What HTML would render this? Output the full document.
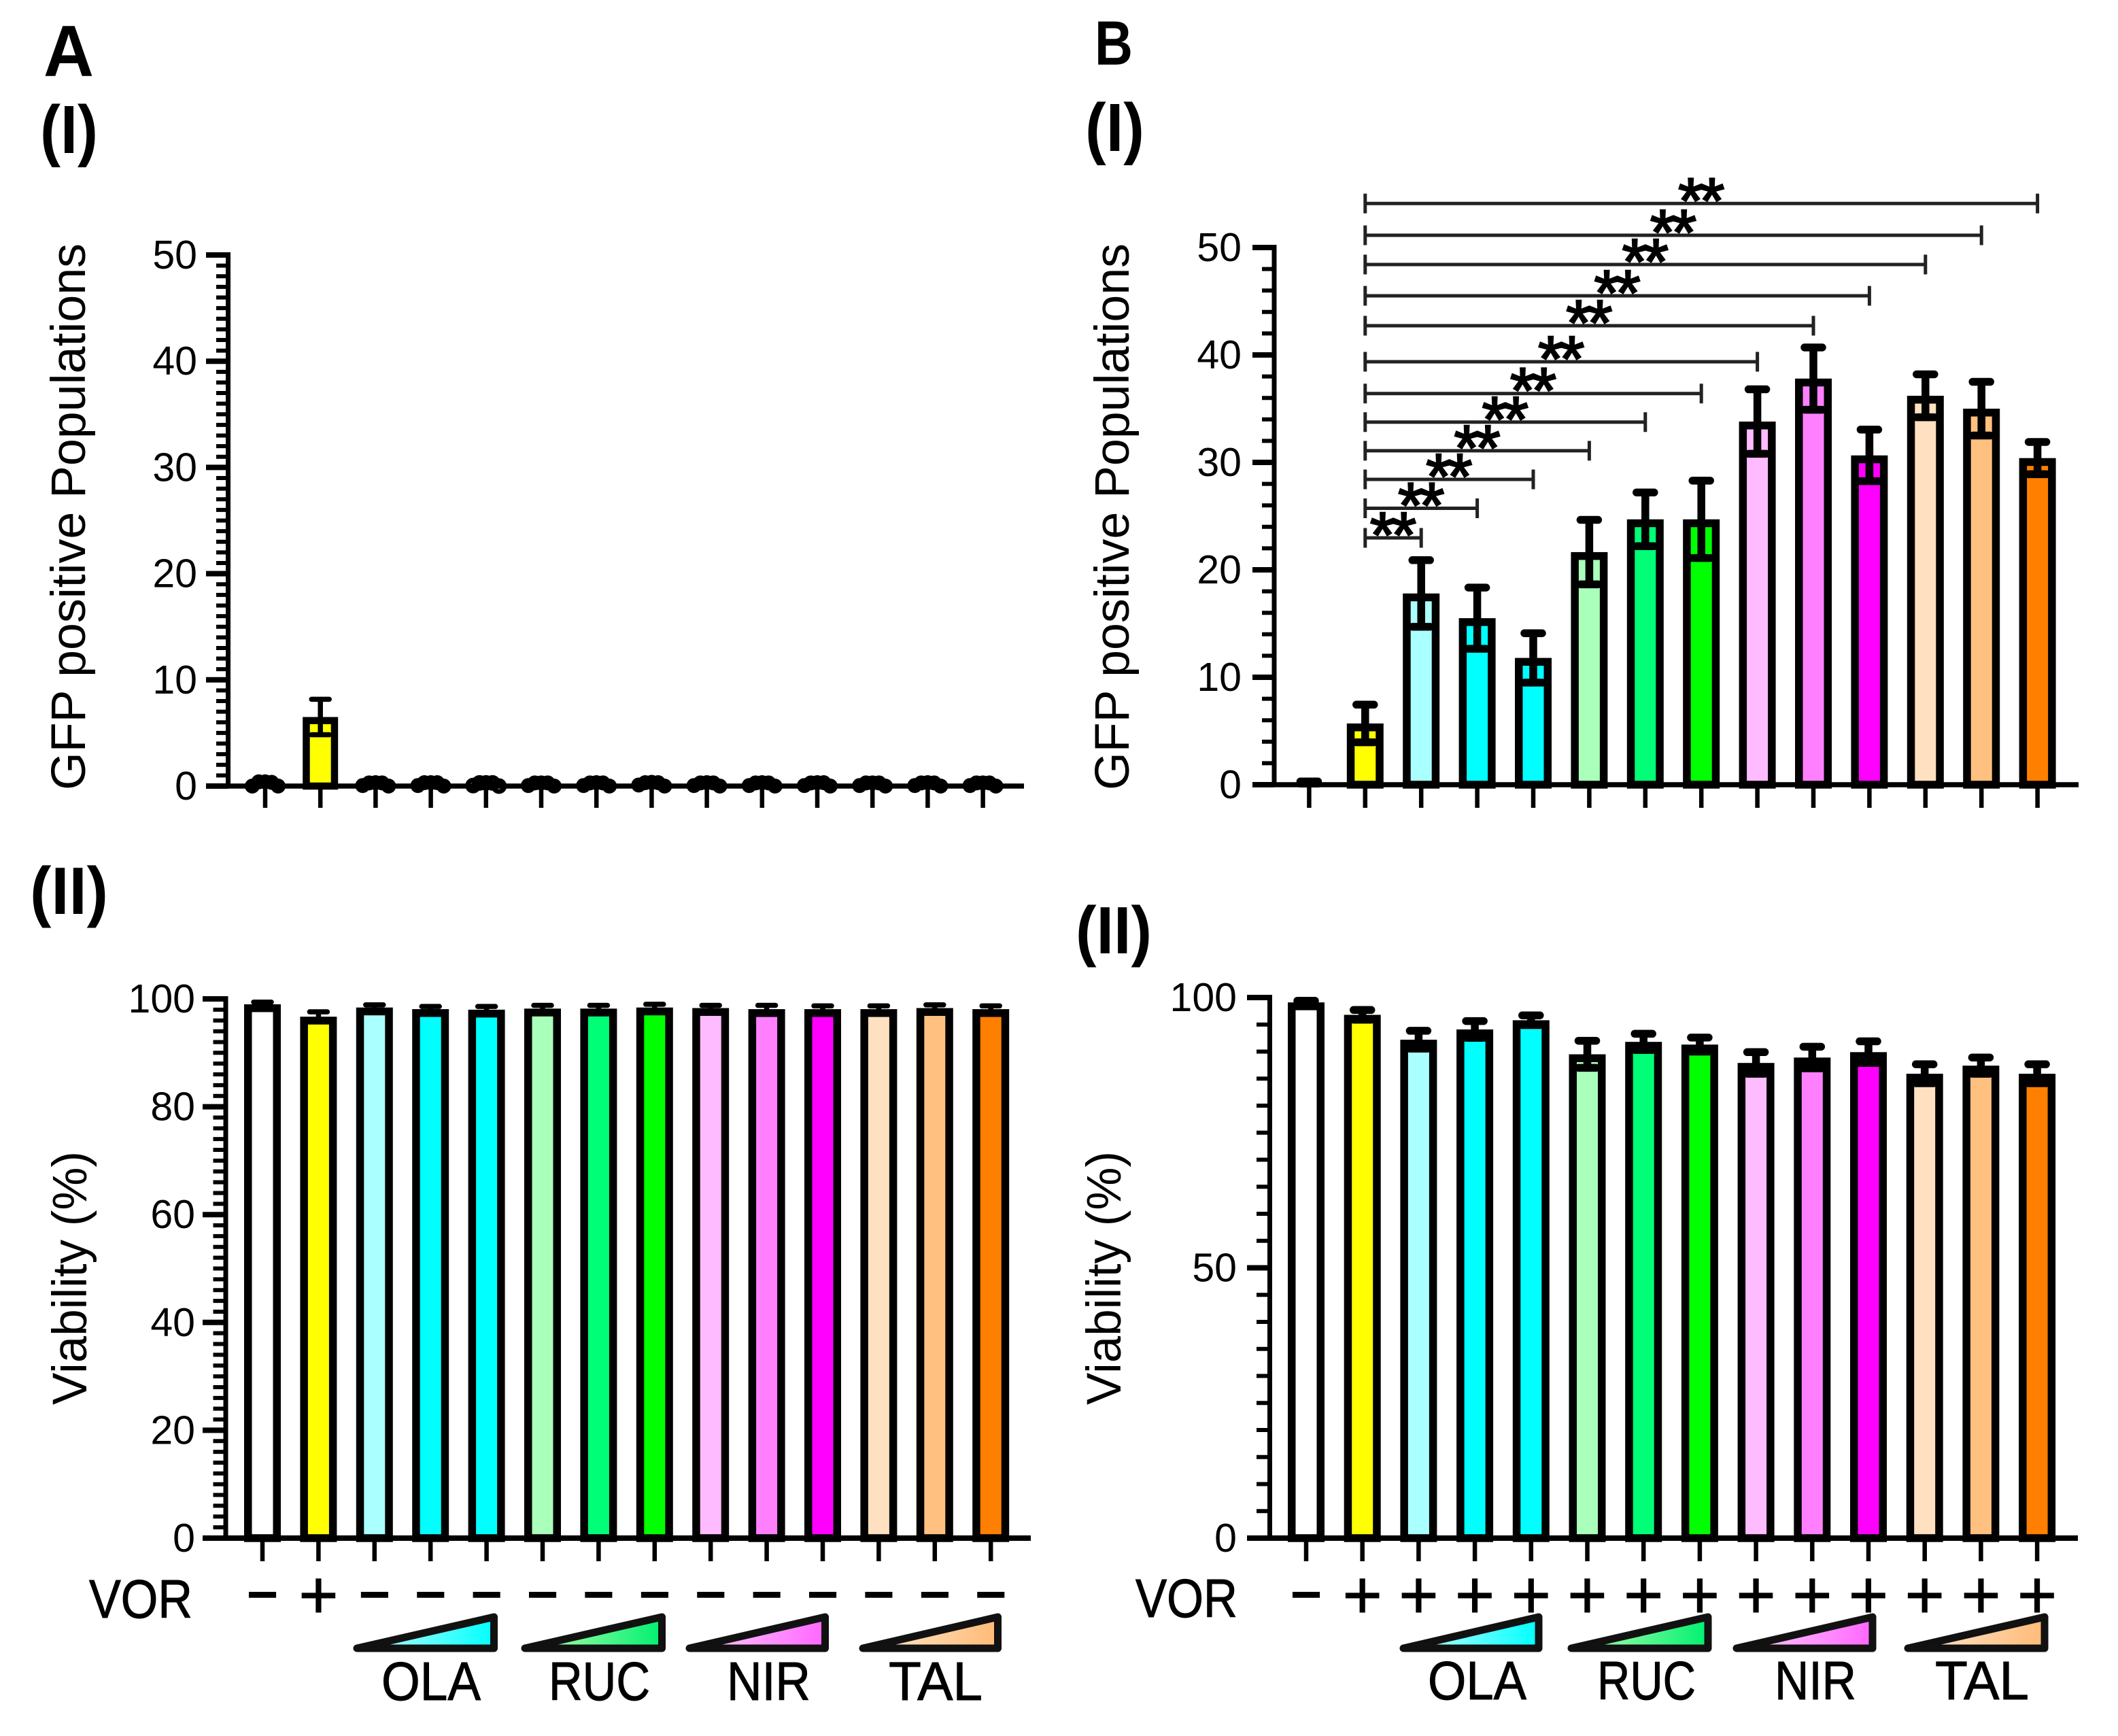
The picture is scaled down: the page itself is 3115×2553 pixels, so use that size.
<!DOCTYPE html>
<html lang="en">
<head>
<meta charset="utf-8">
<title>GFP positive populations and viability</title>
<style>
html,body{margin:0;padding:0;background:#fff;}
svg{display:block;font-family:"Liberation Sans",Arial,sans-serif;}
</style>
</head>
<body>
<svg id="figure" xmlns="http://www.w3.org/2000/svg" width="3115" height="2553" viewBox="0 0 3115 2553">
  <defs>
    <linearGradient id="grad-ola" x1="0" x2="1" y1="0" y2="0"><stop offset="0.1" stop-color="#b8ffff"/><stop offset="1" stop-color="#00ffff"/></linearGradient>
    <linearGradient id="grad-ruc" x1="0" x2="1" y1="0" y2="0"><stop offset="0.1" stop-color="#aaffaa"/><stop offset="1" stop-color="#00f070"/></linearGradient>
    <linearGradient id="grad-nir" x1="0" x2="1" y1="0" y2="0"><stop offset="0.1" stop-color="#ffc8ff"/><stop offset="1" stop-color="#ff66ff"/></linearGradient>
    <linearGradient id="grad-tal" x1="0" x2="1" y1="0" y2="0"><stop offset="0.1" stop-color="#ffe4c8"/><stop offset="1" stop-color="#ffbb77"/></linearGradient>
  </defs>
  <rect x="0" y="0" width="3115" height="2553" fill="#fff"/>

  <text x="64" y="112" font-size="107" font-weight="700" textLength="74" lengthAdjust="spacingAndGlyphs">A</text>
  <text x="59" y="225" font-size="100" font-weight="700" textLength="85" lengthAdjust="spacingAndGlyphs">(I)</text>
  <text x="44" y="1344" font-size="98" font-weight="700" textLength="115" lengthAdjust="spacingAndGlyphs">(II)</text>
  <text x="1610" y="95" font-size="92" font-weight="700" textLength="56" lengthAdjust="spacingAndGlyphs">B</text>
  <text x="1596" y="222" font-size="100" font-weight="700" textLength="87" lengthAdjust="spacingAndGlyphs">(I)</text>
  <text x="1582" y="1402" font-size="98" font-weight="700" textLength="112" lengthAdjust="spacingAndGlyphs">(II)</text>

  <text transform="translate(125 1162) rotate(-90)" font-size="71" textLength="804" lengthAdjust="spacingAndGlyphs">GFP positive Populations</text>
  <text transform="translate(1660 1162) rotate(-90)" font-size="71" textLength="804" lengthAdjust="spacingAndGlyphs">GFP positive Populations</text>
  <text transform="translate(127 2066) rotate(-90)" font-size="71" textLength="373" lengthAdjust="spacingAndGlyphs">Viability (%)</text>
  <text transform="translate(1648 2066) rotate(-90)" font-size="71" textLength="373" lengthAdjust="spacingAndGlyphs">Viability (%)</text>

  <text x="131" y="2379" font-size="80" stroke="#000" stroke-width="1" textLength="152" lengthAdjust="spacingAndGlyphs">VOR</text>
  <text x="1670" y="2378" font-size="80" stroke="#000" stroke-width="1" textLength="150" lengthAdjust="spacingAndGlyphs">VOR</text>

  <g stroke="#111" stroke-width="11" stroke-linejoin="round">
    <path fill="url(#grad-ola)" d="M525 2424 L726.500 2424 L726.500 2378 Z"/>
    <path fill="url(#grad-ruc)" d="M772 2424 L973.500 2424 L973.500 2378 Z"/>
    <path fill="url(#grad-nir)" d="M1014 2424 L1213.500 2424 L1213.500 2378 Z"/>
    <path fill="url(#grad-tal)" d="M1269 2424 L1467.500 2424 L1467.500 2378 Z"/>
  </g>
  <g stroke="#111" stroke-width="11" stroke-linejoin="round">
    <path fill="url(#grad-ola)" d="M2064 2424 L2263 2424 L2263 2378 Z"/>
    <path fill="url(#grad-ruc)" d="M2311 2424 L2512 2424 L2512 2378 Z"/>
    <path fill="url(#grad-nir)" d="M2554 2424 L2754 2424 L2754 2378 Z"/>
    <path fill="url(#grad-tal)" d="M2806 2424 L3007 2424 L3007 2378 Z"/>
  </g>

  <g font-size="80" stroke="#000" stroke-width="1">
    <text x="561" y="2500" textLength="146" lengthAdjust="spacingAndGlyphs">OLA</text>
    <text x="807" y="2500" textLength="149" lengthAdjust="spacingAndGlyphs">RUC</text>
    <text x="1069" y="2500" textLength="123" lengthAdjust="spacingAndGlyphs">NIR</text>
    <text x="1307" y="2500" textLength="138" lengthAdjust="spacingAndGlyphs">TAL</text>
    <text x="2100" y="2499" textLength="145" lengthAdjust="spacingAndGlyphs">OLA</text>
    <text x="2349" y="2499" textLength="145" lengthAdjust="spacingAndGlyphs">RUC</text>
    <text x="2610" y="2499" textLength="120" lengthAdjust="spacingAndGlyphs">NIR</text>
    <text x="2846" y="2499" textLength="138" lengthAdjust="spacingAndGlyphs">TAL</text>
  </g>
</svg>

<script>
// ---------- data ----------
const categories = ['CTRL','VOR','OLA-1','OLA-2','OLA-3','RUC-1','RUC-2','RUC-3','NIR-1','NIR-2','NIR-3','TAL-1','TAL-2','TAL-3'];
const barColors = ['#ffffff','#ffff00','#aaffff','#00ffff','#00ffff','#aaffbb','#00ff77','#00ff00','#ffbbff','#ff80ff','#ff00ff','#ffe0c0','#ffc080','#ff8000'];

const gfpTicksA = [0,10,20,30,40,50];
const gfpTicksB = [0,10,20,30,40,50];
const viabilityTicksA = [0,20,40,60,80,100];
const viabilityTicksB = [0,50,100];

const gfpMeansA = [0.2,6.5,0.2,0.2,0.2,0.2,0.2,0.2,0.2,0.2,0.2,0.2,0.2,0.2];
const gfpErrorsA = [0.1,1.67,0.1,0.1,0.1,0.1,0.1,0.1,0.1,0.1,0.1,0.1,0.1,0.1];
const gfpReplicatesA = [
  [0,0.4,0.4,0.35,0],[],
  [0.05,0.3,0.32,0.3,0],[0.05,0.32,0.32,0.32,0],
  [0.05,0.3,0.3,0.3,0],[0.05,0.3,0.3,0.3,0],
  [0.05,0.3,0.32,0.3,0],[0.1,0.32,0.35,0.32,0],
  [0.05,0.3,0.32,0.3,0],[0.05,0.3,0.32,0.3,0],
  [0.05,0.3,0.32,0.32,0],[0.05,0.3,0.3,0.3,0],
  [0.05,0.3,0.32,0.3,0],[0.05,0.3,0.3,0.3,0]
];
const openDotGroupA = 4;

const gfpMeansB = [0.2,5.7,17.8,15.5,11.8,21.65,24.7,24.7,33.8,37.8,30.65,36.2,35,30.4];
const gfpErrorsB = [0.1,1.75,3.1,2.85,2.3,3.0,2.5,3.6,3.0,2.9,2.4,2.0,2.5,1.5];

const viabilityMeansA = [99.0,96.7,98.4,98.1,98.0,98.2,98.2,98.4,98.3,98.1,98.1,98.1,98.3,98.1];
const viabilityErrorsA = [0.4,0.9,0.5,0.5,0.6,0.6,0.6,0.6,0.5,0.7,0.6,0.6,0.6,0.6];
const viabilityMeansB = [99.1,96.8,92.2,94.1,95.8,89.5,91.8,91.3,87.9,88.9,89.9,85.9,87.4,85.9];
const viabilityErrorsB = [0.3,0.9,1.65,1.55,0.9,2.5,1.5,1.3,2.0,2.0,2.0,1.75,1.5,1.75];

const vorSignsA = ['−','+','−','−','−','−','−','−','−','−','−','−','−','−'];
const vorSignsB = ['−','+','+','+','+','+','+','+','+','+','+','+','+','+'];

const bracketFromIndex = 1;
const bracketToIndexes = [2,3,4,5,6,7,8,9,10,11,12,13];
const bracketLabels = ['**','**','**','**','**','**','**','**','**','**','**','**'];

// ---------- layout ----------
const svg = document.getElementById('figure');
const NS = 'http://www.w3.org/2000/svg';
function svgEl(tag, attrs){
  const e = document.createElementNS(NS, tag);
  for (const k in attrs) e.setAttribute(k, attrs[k]);
  svg.appendChild(e);
  return e;
}

const charts = {
  a1:{x0:390,dx:81.2,y0:1156,pxPerUnit:15.62,axisX:335.5,axisW:7,majorLeft:303,minorLeft:318,baseRight:1506,baseW:7.5,minorStep:1,maxV:50,halfW:26,sw:10.5,errW:7.5,capHalf:13,tickBottom:1188,labelRight:290,key:'a1'},
  b1:{x0:1925.4,dx:82.4,y0:1154,pxPerUnit:15.8,axisX:1874,axisW:7,majorLeft:1842,minorLeft:1856,baseRight:3057,baseW:7.5,minorStep:2,maxV:50,halfW:27,sw:11.5,errW:11.5,capHalf:13,tickBottom:1188,labelRight:1826,key:'b1'},
  a2:{x0:386,dx:82.4,y0:2262,pxPerUnit:7.93,axisX:332,axisW:7,majorLeft:298,minorLeft:313.5,baseRight:1516,baseW:8,minorStep:2,maxV:100,halfW:27,sw:11.5,errW:7.5,capHalf:13,tickBottom:2296,labelRight:287,key:'a2'},
  b2:{x0:1921,dx:82.7,y0:2262,pxPerUnit:7.95,axisX:1867.5,axisW:7,majorLeft:1834,minorLeft:1848,baseRight:3056,baseW:8,minorStep:5,maxV:100,halfW:27,sw:11.5,errW:11.5,capHalf:13,tickBottom:2296,labelRight:1819,key:'b2'}
};
function xPos(c,i){ return c.x0 + c.dx*i; }
function yPos(c,v){ return c.y0 - c.pxPerUnit*v; }

function drawAxes(c, majorTicks){
  for (let v = 0; v <= c.maxV; v += c.minorStep){
    if (majorTicks.indexOf(v) >= 0) continue;
    const minor = svgEl('line',{x1:c.minorLeft,x2:c.axisX,y1:yPos(c,v),y2:yPos(c,v),stroke:'#000','stroke-width':6});
    
    
  }
  majorTicks.forEach(function(v){
    const tick = svgEl('line',{x1:c.majorLeft,x2:c.axisX,y1:yPos(c,v),y2:yPos(c,v),stroke:'#000','stroke-width':8});
    
    
    const label = svgEl('text',{x:c.labelRight,y:yPos(c,v)+20,'text-anchor':'end','font-size':59});
    
    
    label.textContent = String(v);
  });
  const axisLine = svgEl('line',{x1:c.axisX,x2:c.axisX,y1:yPos(c,c.maxV)-4,y2:c.y0,stroke:'#000','stroke-width':c.axisW});
  
  
  categories.forEach(function(name,i){
    const xt = svgEl('line',{x1:xPos(c,i),x2:xPos(c,i),y1:c.y0,y2:c.tickBottom,stroke:'#000','stroke-width':6.5});
    
    
  });
}

function drawBaseline(c){
  const base = svgEl('line',{x1:c.majorLeft,x2:c.baseRight,y1:c.y0,y2:c.y0,stroke:'#000','stroke-width':c.baseW});
  
  
}

function drawBars(c, means, errors, skip){
  means.forEach(function(v,i){
    if (skip && skip(i)) return;
    const cx = xPos(c,i), top = yPos(c,v), s = c.sw;
    const bar = svgEl('rect',{x:cx-c.halfW+s/2,y:top+s/2,width:2*c.halfW-s,height:Math.max(0,c.y0-top-s/2),fill:barColors[i],stroke:'#000','stroke-width':s});
    
    
    const hi = yPos(c,v+errors[i]), lo = yPos(c,v-errors[i]);
    const stem = svgEl('line',{x1:cx,x2:cx,y1:hi,y2:lo,stroke:'#000','stroke-width':c.errW});
    
    
    [hi,lo].forEach(function(yy){
      const cap = svgEl('line',{x1:cx-c.capHalf,x2:cx+c.capHalf,y1:yy,y2:yy,stroke:'#000','stroke-width':c.errW,'stroke-linecap':'round'});
      
      
    });
  });
}

function drawDots(c, replicates){
  replicates.forEach(function(vals,i){
    vals.forEach(function(v,j){
      const off = (j-(vals.length-1)/2)*9.5;
      const isOpen = i === openDotGroupA;
      const dot = svgEl('circle',{cx:xPos(c,i)+off,cy:yPos(c,v),r:isOpen?8:11,fill:isOpen?'none':'#000',stroke:'#000','stroke-width':isOpen?7:0});
      
      
    });
  });
}

function drawVorSigns(c, signs){
  signs.forEach(function(sign,i){
    const big = sign === '+';
    const t = svgEl('text',{x:xPos(c,i),y:big?2380:2372,'text-anchor':'middle','font-size':big?100:80,'font-weight':big?400:700,stroke:'#000','stroke-width':big?1:0});
    
    
    t.textContent = sign;
  });
}

function drawBrackets(c){
  const bracketYs = [791,747.5,705,662.9,620.8,578.7,532,479,435,389,346,299.3];
  bracketToIndexes.forEach(function(to,k){
    const x1 = xPos(c,bracketFromIndex), x2 = xPos(c,to), yy = bracketYs[k];
    const line = svgEl('path',{d:'M'+x1+' '+(yy-14.5)+'V'+(yy+14.5)+'M'+x1+' '+yy+'H'+x2+'M'+x2+' '+(yy-14.5)+'V'+(yy+14.5),fill:'none',stroke:'#222','stroke-width':5});
    
    
    const stars = svgEl('text',{x:(x1+x2)/2-2.85,y:yy+28,'text-anchor':'middle','font-size':95,'letter-spacing':-5.7,stroke:'#000','stroke-width':2.5});
    
    
    stars.textContent = bracketLabels[k];
  });
}

// ---------- render ----------
drawAxes(charts.a1, gfpTicksA);
drawBars(charts.a1, gfpMeansA, gfpErrorsA, function(i){ return i !== 1; });
drawBaseline(charts.a1);
drawDots(charts.a1, gfpReplicatesA);

drawAxes(charts.b1, gfpTicksB);
drawBars(charts.b1, gfpMeansB, gfpErrorsB);
drawBaseline(charts.b1);
drawBrackets(charts.b1);

drawAxes(charts.a2, viabilityTicksA);
drawBars(charts.a2, viabilityMeansA, viabilityErrorsA);
drawBaseline(charts.a2);
drawVorSigns(charts.a2, vorSignsA);

drawAxes(charts.b2, viabilityTicksB);
drawBars(charts.b2, viabilityMeansB, viabilityErrorsB);
drawBaseline(charts.b2);
drawVorSigns(charts.b2, vorSignsB);
</script>
</body>
</html>
